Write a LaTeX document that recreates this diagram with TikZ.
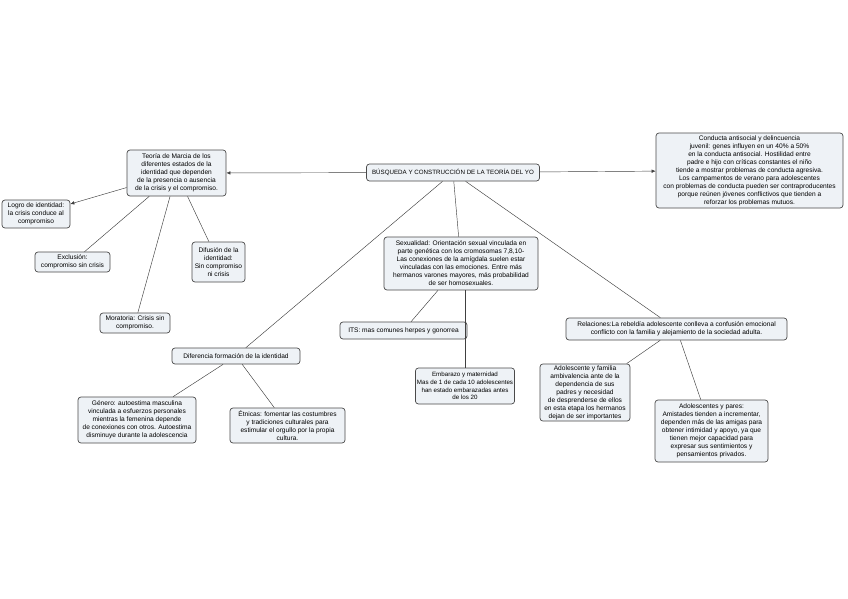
\documentclass[tikz,border=0pt]{standalone}
\usepackage{fontspec}
\setmainfont{Liberation Sans}
\usetikzlibrary{arrows.meta}
\definecolor{boxfill}{HTML}{EEF2F6}
\definecolor{boxline}{HTML}{4A4A4A}
\tikzset{
  box/.style={draw=boxline, fill=boxfill, rounded corners=3pt, align=center,
    font=\fontsize{6.6}{8}\selectfont, inner sep=1.5pt, line width=0.7pt},
  smallbox/.style={box, font=\fontsize{6.2}{7.8}\selectfont},
  link/.style={draw=black!75, line width=0.45pt},
  arr/.style={link, -{Latex[length=4pt,width=3.5pt]}}
}
\begin{document}
\begin{tikzpicture}[x=1pt,y=-1pt]
\useasboundingbox[fill=white] (0,0) rectangle (848,599);

\node[smallbox, minimum width=173, minimum height=17] (c) at (453,172.5) {BÚSQUEDA Y CONSTRUCCIÓN DE LA TEORÍA DEL YO};

\node[box, minimum width=99, minimum height=46] (mar) at (176.5,173) {Teoría de Marcia de los\\diferentes estados de la\\identidad que dependen\\de la presencia o ausencia\\de la crisis y el compromiso.};

\node[box, minimum width=187, minimum height=75] (con) at (749.5,170.5) {Conducta antisocial y delincuencia\\juvenil: genes influyen en un 40\% a 50\%\\en la conducta antisocial. Hostilidad entre\\padre e hijo con críticas constantes el niño\\tiende a mostrar problemas de conducta agresiva.\\Los campamentos de verano para adolescentes\\con problemas de conducta pueden ser contraproducentes\\porque reúnen jóvenes conflictivos que tienden a\\reforzar los problemas mutuos.};

\node[box, minimum width=68, minimum height=28] (log) at (36,214) {Logro de identidad:\\la crisis conduce al\\compromiso};

\node[box, minimum width=75, minimum height=20] (exc) at (72.5,262) {Exclusión:\\compromiso sin crisis};

\node[box, minimum width=53, minimum height=40] (dif) at (218.5,262) {Difusión de la\\identidad:\\Sin compromiso\\ni crisis};

\node[box, minimum width=70, minimum height=20] (mor) at (135,323) {Moratoria: Crisis sin\\compromiso.};

\node[box, minimum width=154, minimum height=53] (sex) at (461,263.5) {Sexualidad: Orientación sexual vinculada en\\parte genética con los cromosomas 7,8,10-\\Las conexiones de la amígdala suelen estar\\vinculadas con las emociones. Entre más\\hermanos varones mayores, más probabilidad\\de ser homosexuales.};

\node[box, minimum width=127, minimum height=17] (its) at (403.5,330.5) {ITS: mas comunes herpes y gonorrea};

\node[smallbox, minimum width=90, minimum height=36] (emb) at (465,386) {Embarazo y maternidad\\Mas de 1 de cada 10 adolescentes\\han estado embarazadas antes\\de los 20};

\node[box, minimum width=221, minimum height=22] (rel) at (676.5,329) {Relaciones:La rebeldía adolescente conlleva a confusión emocional\\conflicto con la familia y alejamiento de la sociedad adulta.};

\node[box, minimum width=128, minimum height=16] (dfi) at (236,356) {Diferencia formación de la identidad};

\node[box, minimum width=118, minimum height=46] (gen) at (137,420) {Género: autoestima masculina\\vinculada a esfuerzos personales\\mientras la femenina depende\\de conexiones con otros. Autoestima\\disminuye durante la adolescencia};

\node[box, minimum width=115, minimum height=35] (etn) at (287.5,425.5) {Étnicas: fomentar las costumbres\\y tradiciones culturales para\\estimular el orgullo por la propia\\cultura.};

\node[box, minimum width=90, minimum height=55] (fam) at (585,392.5) {Adolescente y familia\\ambivalencia ante de la\\dependencia de sus\\padres y necesidad\\de desprenderse de ellos\\en esta etapa los hermanos\\dejan de ser importantes};

\node[box, minimum width=113, minimum height=62] (par) at (711.5,431) {Adolescentes y pares:\\Amistades tienden a incrementar,\\dependen más de las amigas para\\obtener intimidad y apoyo, ya que\\tienen mejor capacidad para\\expresar sus sentimientos y\\pensamientos privados.};

\draw[arr] (c) -- (mar);
\draw[arr] (c) -- (con);
\draw[arr] (mar) -- (log);
\draw[link] (mar) -- (exc);
\draw[link] (mar) -- (mor);
\draw[link] (mar) -- (dif);
\draw[link] (c) -- (sex);
\draw[link] (c) -- (dfi);
\draw[link] (c) -- (rel);
\draw[link] (sex) -- (its);
\draw[link] (sex.south -| emb.north) -- (emb.north);
\draw[link] (dfi) -- (gen);
\draw[link] (dfi) -- (etn);
\draw[link] (rel) -- (fam);
\draw[link] (rel) -- (par);
\end{tikzpicture}
\end{document}
